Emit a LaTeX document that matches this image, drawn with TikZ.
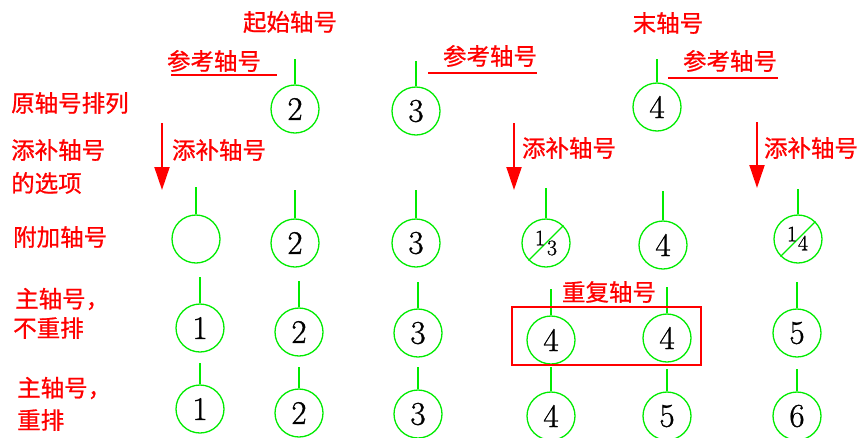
\documentclass[tikz,border=0pt]{standalone}
\usepackage{fontspec}
\newfontfamily\cjk[FakeBold=0.8]{Noto Sans CJK SC}
\newfontfamily\dig[FakeBold=1]{Latin Modern Roman}
\usetikzlibrary{arrows.meta}
\definecolor{axred}{RGB}{255,0,0}
\definecolor{axgreen}{RGB}{0,235,0}
\tikzset{
  lbl/.style={text=axred, font=\cjk\fontsize{23.5}{25}\selectfont, inner sep=0pt},
  lblw/.style={lbl, anchor=west},
  axc/.style={circle, draw=axgreen, line width=1.3pt, minimum size=48pt, inner sep=0pt,
              font=\dig\fontsize{33}{33}\selectfont},
  stem/.style={draw=axgreen, line width=1.3pt},
  frac/.style={inner sep=0pt, font=\dig\fontsize{22}{22}\selectfont},
  uline/.style={draw=axred, line width=1.5pt},
  redarrow/.style={draw=axred, line width=2pt, -{Triangle[width=15pt,length=23pt]}},
  redbox/.style={draw=axred, line width=1.5pt, minimum width=189pt, minimum height=58pt, inner sep=0pt}
}
\newcommand{\axnode}[5]{% name, x, y, stem length, text
  \node[axc] (#1) at (#2,#3) {#5};
  \coordinate (#1t) at ([yshift=#4pt]#1.north);
  \draw[stem] (#1.north) -- (#1t);
}
\begin{document}
\begin{tikzpicture}[x=1pt,y=-1pt]
\useasboundingbox (0,0) rectangle (861,437);

% top labels
\node[lbl] (qs) at (290,22) {起始轴号};
\node[lbl] (mz) at (668,23) {末轴号};
\node[lbl] (ck1) at (214,61) {参考轴号};
\node[lbl] (ck2) at (490,56) {参考轴号};
\node[lbl] (ck3) at (730,61) {参考轴号};
\coordinate (u1a) at (171,75); \coordinate (u1b) at (277,75);
\coordinate (u2a) at (428,73); \coordinate (u2b) at (537,73);
\coordinate (u3a) at (668,78); \coordinate (u3b) at (778,78);
\draw[uline] (u1a) -- (u1b);
\draw[uline] (u2a) -- (u2b);
\draw[uline] (u3a) -- (u3b);

% left labels
\node[lblw] (l1) at (11,103) {原轴号排列};
\node[lblw] (l2) at (11,150) {添补轴号};
\node[lblw] (l3) at (11,183) {的选项};
\node[lblw] (l4) at (13,237) {附加轴号};
\node[lblw] (l5) at (15,299) {主轴号，};
\node[lblw] (l6) at (13,328) {不重排};
\node[lblw] (l7) at (17,388) {主轴号，};
\node[lblw] (l8) at (17,420) {重排};

% arrows
\coordinate (a1s) at (162,123); \coordinate (a1e) at (162,190);
\coordinate (a2s) at (514,123); \coordinate (a2e) at (514,190);
\coordinate (a3s) at (757,122); \coordinate (a3e) at (757,188);
\draw[redarrow] (a1s) -- (a1e);
\draw[redarrow] (a2s) -- (a2e);
\draw[redarrow] (a3s) -- (a3e);
\node[lbl] (t1) at (219,150) {添补轴号};
\node[lbl] (t2) at (569,148) {添补轴号};
\node[lbl] (t3) at (811,148) {添补轴号};

% row 1
\axnode{r1a}{295}{109}{25}{2}
\axnode{r1b}{416}{111}{25}{3}
\axnode{r1c}{657}{107}{23}{4}

% row 2
\axnode{r2a}{196}{239}{27}{}
\axnode{r2b}{295}{243}{28}{2}
\axnode{r2c}{416}{243}{28}{3}
\axnode{r2d}{546}{243}{30}{}
\draw[stem] (r2d.-135) -- (r2d.45);
\node[frac] (r2d1) at (540,238) {1};
\node[frac] (r2d2) at (552,248) {3};
\axnode{r2e}{663}{245}{29}{4}
\axnode{r2f}{798}{239}{25}{}
\draw[stem] (r2f.-135) -- (r2f.45);
\node[frac] (r2f1) at (792,234) {1};
\node[frac] (r2f2) at (803,243) {4};

% row 3
\axnode{r3a}{200}{328}{26}{1}
\axnode{r3b}{299}{332}{26}{2}
\axnode{r3c}{418}{333}{26}{3}
\axnode{r3d}{551}{340}{26}{4}
\axnode{r3e}{667}{338}{26}{4}
\axnode{r3f}{797}{333}{26}{5}
\node[redbox] (box) at (606.5,336) {};
\node[lbl] (cf) at (609,292) {重复轴号};

% row 4
\axnode{r4a}{200}{409}{21}{1}
\axnode{r4b}{299}{413}{21}{2}
\axnode{r4c}{418}{414}{22}{3}
\axnode{r4d}{551}{416}{24}{4}
\axnode{r4e}{667}{416}{22}{5}
\axnode{r4f}{797}{416}{22}{6}
\end{tikzpicture}
\end{document}
